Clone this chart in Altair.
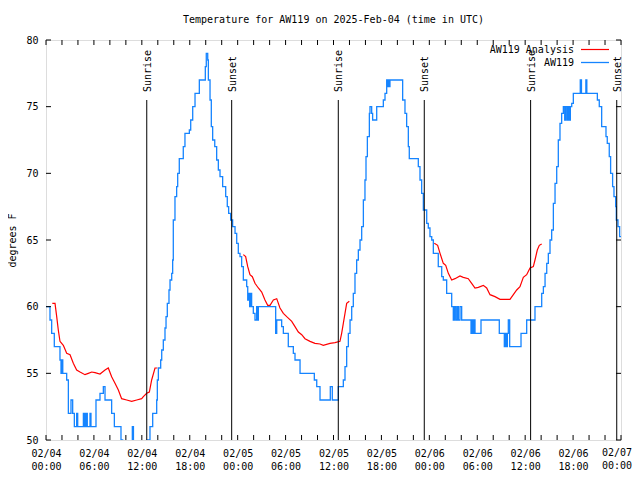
import altair as alt
import pandas as pd

FONT = "DejaVu Sans Mono"
RED = "#ff0000"
BLUE = "#1584ff"
START = pd.Timestamp("2025-02-04T00:00:00Z")

title_text = "Temperature for AW119 on 2025-Feb-04 (time in UTC)"
y_title = "degrees F"
series_names = ["AW119 Analysis", "AW119"]

obs_hours = [0.0, 0.5, 0.71, 1.04, 1.75, 1.88, 2.0, 2.1, 2.59, 2.8, 3.13, 3.34, 3.55, 3.84, 3.97,
             4.68, 4.8, 4.88, 5.0, 5.05, 5.17, 5.51, 5.63, 6.26, 6.76, 7.18, 7.39, 8.22, 8.56, 9.39,
             9.6, 10.81, 10.95, 12.69, 13.02, 13.36, 13.86, 13.94, 14.07, 14.36, 14.49, 14.69, 14.9,
             15.03, 15.19, 15.4, 15.53, 15.74, 15.86, 15.94, 16.15, 16.36, 16.49, 16.69, 17.19,
             17.4, 17.95, 18.12, 18.37, 18.66, 19.2, 19.95, 20.07, 20.25, 20.33, 20.54, 20.7, 20.87,
             21.13, 21.37, 21.58, 21.79, 22.12, 22.5, 22.7, 22.87, 23.12, 23.37, 23.67, 23.88, 24.08,
             24.29, 24.5, 24.71, 25.13, 25.26, 25.4, 25.5, 25.62, 25.75, 25.96, 26.17, 26.38, 26.48,
             26.59, 28.76, 28.89, 29.51, 29.72, 30.34, 30.97, 31.18, 31.81, 33.6, 33.9, 34.31,
             35.6, 35.85, 36.6, 37.23, 37.44, 37.65, 37.86, 38.07, 38.28, 38.48, 38.69, 38.9,
             39.11, 39.32, 39.53, 39.74, 39.94, 40.07, 40.24, 40.49, 40.57, 40.78, 40.9, 41.41,
             42.24, 42.45, 42.66, 42.74, 42.87, 42.95, 43.07, 44.66, 44.95, 45.16, 45.37, 45.49,
             46.62, 46.83, 47.04, 47.25, 47.67, 47.87, 48.08, 48.3, 48.5, 49.12, 49.55, 49.75,
             50.17, 50.8, 51.0, 51.13, 51.3, 51.47, 51.63, 51.84, 52.05, 53.22, 53.34, 53.47,
             53.6, 53.72, 54.47, 56.76, 57.39, 57.52, 57.64, 57.77, 57.89, 58.06, 59.48, 60.19,
             61.23, 62.07, 62.28, 62.49, 62.7, 62.9, 63.11, 63.32, 63.53, 63.74, 63.95, 64.15,
             64.36, 64.57, 64.78, 64.95, 65.07, 65.24, 65.37, 65.53, 65.66, 65.83, 66.03, 66.9,
             67.05, 67.6, 67.72, 69.04, 69.28, 69.58, 70.12, 70.28, 70.53, 70.7, 70.95, 71.12,
             71.33, 71.41, 71.62, 71.83, 72.0]
obs_temps = [60, 59, 58, 57, 56, 55, 56, 55, 54.5, 52, 53, 52, 51, 52, 51,
             52, 51, 52, 51, 52, 51, 52, 51, 53, 53.5, 54, 53, 52, 51, 50,
             49, 51, 49, 50, 51, 52, 53, 54.5, 55.4, 56, 56.75, 57.5, 58.4,
             59.25, 60.25, 61.25, 62, 62.5, 63.5, 66.5, 68.25, 69, 70, 71.1, 72,
             73, 73.25, 74, 75, 76, 77, 78, 79, 78.5, 77, 75.5, 73.5, 72.5,
             72, 71, 70.25, 69.75, 69, 68.25, 67.5, 67, 66.5, 66, 65.5, 64.75, 64,
             63.75, 63, 62, 61.5, 60.5, 61, 60, 61, 60, 59.5, 59, 60, 59,
             60, 58, 59, 58.5, 58, 57, 56.5, 56, 55, 54.5, 54, 53,
             54, 53, 54, 54.5, 55.5, 57, 58, 59, 60, 61, 62.5, 63.5,
             64.25, 65, 66, 68, 69.5, 71.25, 72.75, 74.5, 75, 74.5, 74, 75,
             75.5, 76, 77, 76.5, 77, 76.5, 77, 75.5, 74.5, 73.5, 72, 71.1,
             70.5, 69.5, 68.5, 67.25, 66.25, 65.9, 65.25, 65, 64, 63, 62.25, 62,
             61, 60, 59, 60, 59, 60, 59, 60, 59, 58, 59, 58,
             59, 58, 59, 58, 57, 58, 57, 58, 59, 57, 58, 59,
             60, 61, 61.5, 62.5, 63.25, 64, 65, 65.75, 67.75, 69.25, 70.5, 72.5,
             73.75, 74.5, 75, 74, 75, 74, 75, 74, 75, 75.25, 76, 77,
             76, 77, 76, 75.5, 75, 73.5, 72.75, 72.25, 71.25, 70, 69, 68.25,
             67.5, 66.5, 66, 65.25, 65.25]

# AW119 Analysis: three overnight segments
an1_hours = [0.79, 1.13, 1.34, 1.54, 1.75, 2.17, 2.59, 3.01, 3.42, 3.84, 4.26, 4.88, 5.3, 5.72,
             6.14, 6.76, 7.39, 7.8, 8.22, 8.64, 9.06, 9.47, 10.1, 10.73, 11.36, 11.98, 12.19,
             12.61, 12.94, 13.23, 13.65, 13.94]
an1_temps = [60.25, 60.25, 59.25, 58.25, 57.4, 57.1, 56.5, 56.4, 55.75, 55.25, 55.1, 54.9, 55.0,
             55.1, 55.05, 54.95, 55.25, 55.4, 54.75, 54.25, 53.75, 53.1, 53.0, 52.9, 53.0, 53.1,
             53.25, 53.5, 53.6, 54.5, 55.4, 55.4]
an2_hours = [24.71, 25.0, 25.26, 25.54, 25.84, 26.17, 26.59, 27.01, 27.42, 27.76, 28.05, 28.47,
             28.89, 29.3, 29.72, 30.14, 30.77, 31.18, 31.6, 32.02, 32.43, 33.06, 33.68, 34.31,
             34.72, 35.56, 36.19, 36.81, 37.02, 37.23, 37.44, 37.65, 37.98]
an2_temps = [63.9, 63.75, 63.0, 62.4, 62.25, 61.75, 61.4, 61.1, 60.5, 60.1, 60.1, 60.5, 60.6,
             59.9, 59.5, 59.25, 58.9, 58.5, 58.1, 57.9, 57.6, 57.4, 57.25, 57.2, 57.1, 57.25,
             57.3, 57.4, 58.0, 58.75, 59.5, 60.25, 60.4]
an3_hours = [48.62, 49.04, 49.34, 49.75, 50.05, 50.38, 50.8, 51.21, 51.84, 52.25, 52.88, 53.3,
             53.72, 54.13, 54.76, 55.18, 55.6, 56.22, 56.85, 58.1, 58.52, 58.94, 59.35, 59.77,
             60.19, 60.61, 61.02, 61.23, 61.52, 61.77, 62.07]
an3_temps = [64.75, 64.6, 64.0, 63.25, 63.1, 62.5, 62.0, 62.1, 62.3, 62.2, 62.1, 61.75, 61.4,
             61.45, 61.6, 61.4, 60.9, 60.75, 60.55, 60.55, 60.9, 61.25, 61.5, 62.2, 62.4, 62.9,
             63.0, 63.5, 64.25, 64.6, 64.7]

event_times = ["2025-02-04T12:37:00Z", "2025-02-04T23:15:00Z", "2025-02-05T12:36:00Z",
               "2025-02-05T23:22:00Z", "2025-02-06T12:41:00Z", "2025-02-06T23:28:00Z"]
event_labels = ["Sunrise", "Sunset", "Sunrise", "Sunset", "Sunrise", "Sunset"]

x_label_hours = list(range(0, 67, 6))   # 02/04 00:00 .. 02/06 18:00 (axis labels)
x_last_label_hour = 72                  # 02/07 00:00 (flush at the right edge)
x_tick_hours = list(range(0, 73, 2))
y_ticks = [50, 55, 60, 65, 70, 75, 80]


def iso(h):
    return (START + pd.to_timedelta(h, unit="h")).strftime("%Y-%m-%dT%H:%M:%SZ")


def ms(h):
    return int((START + pd.to_timedelta(h, unit="h")).timestamp() * 1000)


obs = pd.DataFrame({"t": [iso(h) for h in obs_hours], "temp": obs_temps})
an_rows = []
for k, (hs, ts) in enumerate([(an1_hours, an1_temps), (an2_hours, an2_temps), (an3_hours, an3_temps)]):
    for h, v in zip(hs, ts):
        an_rows.append({"t": iso(h), "temp": v, "seg": k})
an = pd.DataFrame(an_rows)
events = pd.DataFrame({"t": event_times, "label": event_labels})
xt = pd.DataFrame({"t": [iso(h) for h in x_tick_hours]})
yt = pd.DataFrame({"temp": y_ticks})
last_lab = pd.DataFrame({"t": [iso(x_last_label_hour)]})

W, H = 575, 400

xscale = alt.Scale(type="utc", domain=[ms(0), ms(72)], nice=False)
xaxis = alt.Axis(values=[ms(h) for h in x_label_hours],
                 labelExpr="[utcFormat(datum.value, '%m/%d'), utcFormat(datum.value, '%H:%M')]",
                 ticks=False, domain=False, grid=False, labelFont=FONT, labelFontSize=10,
                 labelColor="black", labelPadding=8, labelLineHeight=13, labelBaseline="top",
                 labelAngle=0, labelFlush=False, labelOverlap=False, title=None)
yscale = alt.Scale(domain=[50, 80], nice=False, zero=False)
yaxis = alt.Axis(values=y_ticks, ticks=False, domain=False, grid=False, labelFont=FONT,
                 labelFontSize=10, labelColor="black", labelPadding=8, labelFlush=False,
                 title=y_title, titleFont=FONT, titleFontSize=10, titleFontWeight="normal",
                 titleColor="black", titleX=-34, titleY=H / 2, titleAngle=270,
                 titleAlign="center", titleBaseline="middle")

X = alt.X("t:T", scale=xscale, axis=xaxis)
Y = alt.Y("temp:Q", scale=yscale, axis=yaxis)

blue = alt.Chart(obs).mark_line(color=BLUE, strokeWidth=1.3, interpolate="step-after", clip=True).encode(x=X, y=Y)
red = alt.Chart(an).mark_line(color=RED, strokeWidth=1.2, clip=True).encode(x=X, y=Y, detail="seg:N")

ev_rule = alt.Chart(events).mark_rule(color="black", strokeWidth=1).encode(
    x=X, y=alt.value(60), y2=alt.value(H))
ev_text = alt.Chart(events).mark_text(angle=270, align="left", baseline="middle", font=FONT,
                                      fontSize=10, color="black", dy=1).encode(
    x=X, y=alt.value(52), text="label:N")

xt_bot = alt.Chart(xt).mark_rule(color="black", strokeWidth=1).encode(x=X, y=alt.value(H), y2=alt.value(H - 5))
xt_top = alt.Chart(xt).mark_rule(color="black", strokeWidth=1).encode(x=X, y=alt.value(0), y2=alt.value(5))
yt_left = alt.Chart(yt).mark_rule(color="black", strokeWidth=1).encode(y=Y, x=alt.value(0), x2=alt.value(5))
yt_right = alt.Chart(yt).mark_rule(color="black", strokeWidth=1).encode(y=Y, x=alt.value(W), x2=alt.value(W - 5))

last_text = alt.Chart(last_lab).transform_calculate(
    lab="utcFormat(toDate(datum.t), '%m/%d') + '\\n' + utcFormat(toDate(datum.t), '%H:%M')"
).mark_text(align="right", baseline="top", font=FONT, fontSize=10, color="black",
            lineBreak="\n", lineHeight=13, dx=11).encode(
    x=X, y=alt.value(H + 8), text="lab:N")

leg = pd.DataFrame({"name": series_names})
leg_text1 = alt.Chart(leg.iloc[[0]]).mark_text(align="right", baseline="middle", font=FONT, fontSize=10,
                                               color="black").encode(x=alt.value(528), y=alt.value(9.5), text="name:N")
leg_text2 = alt.Chart(leg.iloc[[1]]).mark_text(align="right", baseline="middle", font=FONT, fontSize=10,
                                               color="black").encode(x=alt.value(528), y=alt.value(22.5), text="name:N")
leg_line1 = alt.Chart(leg.iloc[[0]]).mark_rule(color=RED, strokeWidth=1.2).encode(
    x=alt.value(535), x2=alt.value(563), y=alt.value(9.5))
leg_line2 = alt.Chart(leg.iloc[[1]]).mark_rule(color=BLUE, strokeWidth=1.3).encode(
    x=alt.value(535), x2=alt.value(563), y=alt.value(22.5))

chart = alt.layer(
    blue, red, ev_rule, ev_text, xt_bot, xt_top, yt_left, yt_right, last_text,
    leg_text1, leg_text2, leg_line1, leg_line2
).properties(
    width=W, height=H,
    title=alt.TitleParams(text=title_text, font=FONT, fontSize=10, fontWeight="normal",
                          anchor="middle", frame="group", color="black", offset=10),
    padding={"left": 38, "top": 32, "right": 11, "bottom": 32},
    autosize=alt.AutoSizeParams(type="none"),
).configure_view(stroke="black", strokeWidth=1).configure(background="white")

chart.save("out.html", embed_options={"renderer": "svg", "actions": False})
